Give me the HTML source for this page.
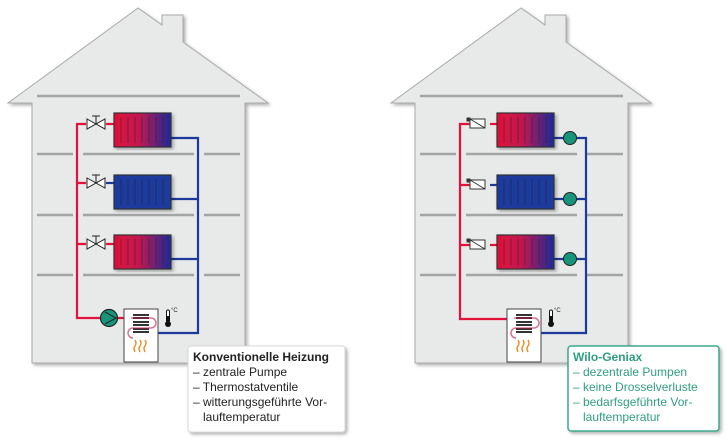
<!DOCTYPE html>
<html><head><meta charset="utf-8"><style>
html,body{margin:0;padding:0;background:#fff;}
svg{display:block}
.t{font-family:"Liberation Sans",sans-serif;font-size:12px}
</style></head><body>
<svg width="728" height="441" viewBox="0 0 728 441" xmlns="http://www.w3.org/2000/svg">
<defs>
<linearGradient id="hot" x1="0" x2="1"><stop offset="0" stop-color="#e0103a"/><stop offset="0.45" stop-color="#c01850"/><stop offset="1" stop-color="#1a2a9a"/></linearGradient>
<filter id="sh" x="-5%" y="-5%" width="115%" height="115%"><feDropShadow dx="2" dy="2" stdDeviation="1.5" flood-color="#000" flood-opacity="0.3"/></filter>
<g id="house">
<path d="M32,103 L8,103 L138,8 L162,25 L162,15 L183,15 L183,42 L268,103 L245,103 L245,363 L32,363 Z" fill="#e8e9e9" stroke="#a8aaaa" stroke-width="1" filter="url(#sh)"/>
<g stroke="#a3a5a5" stroke-width="2.5">
<line x1="37" y1="96" x2="240" y2="96"/>
<line x1="37" y1="154" x2="73" y2="154"/><line x1="83" y1="154" x2="194" y2="154"/><line x1="204" y1="154" x2="240" y2="154"/>
<line x1="37" y1="215" x2="73" y2="215"/><line x1="83" y1="215" x2="194" y2="215"/><line x1="204" y1="215" x2="240" y2="215"/>
<line x1="37" y1="275" x2="73" y2="275"/><line x1="83" y1="275" x2="194" y2="275"/><line x1="204" y1="275" x2="240" y2="275"/>
</g>
</g>
<g id="rads">
<rect x="114" y="113" width="57" height="34" fill="url(#hot)" stroke="#333" stroke-width="1.2" filter="url(#sh)"/>
<rect x="114" y="175" width="57" height="34" fill="#1b3a9c" stroke="#333" stroke-width="1.2" filter="url(#sh)"/>
<rect x="114" y="235" width="57" height="34" fill="url(#hot)" stroke="#333" stroke-width="1.2" filter="url(#sh)"/>
<g stroke="#222" stroke-opacity="0.45" stroke-width="1" fill="none">
<path d="M121,117v26M128,117v26M135,117v26M142,117v26M149,117v26M156,117v26M163,117v26"/>
<path d="M121,179v26M128,179v26M135,179v26M142,179v26M149,179v26M156,179v26M163,179v26"/>
<path d="M121,239v26M128,239v26M135,239v26M142,239v26M149,239v26M156,239v26M163,239v26"/>
</g>
</g>
<g id="boiler">
<rect x="124" y="309" width="34" height="53" fill="#fff" stroke="#444" stroke-width="1"/>
<g stroke="#333" stroke-width="2">
<path d="M133,315h16M133,318h16M133,322h16M133,325h16M133,329h16M133,332h16"/>
</g>
<path d="M131,318 h20 a5,5 0 0 1 0,10 h-18 a5,5 0 0 0 0,10" fill="none" stroke="#c0144a" stroke-width="1.5" stroke-opacity="0.6"/>
<g stroke="#f08a20" stroke-width="1.4" fill="none">
<path d="M135,352 q-2,-4 0,-6 q2,-3 0,-6"/><path d="M140,352 q-2,-4 0,-6 q2,-3 0,-6"/><path d="M145,352 q-2,-4 0,-6 q2,-3 0,-6"/>
</g>
<rect x="166.5" y="310" width="3" height="12" rx="1.5" fill="#fff" stroke="#111"/>
<circle cx="168" cy="324" r="3" fill="#111"/>
<rect x="167" y="316" width="2" height="7" fill="#111"/>
<text x="171" y="312" font-family="Liberation Sans,sans-serif" font-size="6" fill="#222">°C</text>
</g>
</defs>

<!-- LEFT HOUSE -->
<use href="#house"/>
<g fill="none" stroke-width="2.2">
<path d="M86,124 H77 V318 H101" stroke="#e3123c"/>
<path d="M77,183 H86 M77,244 H86" stroke="#e3123c"/>
<path d="M106,124 H114" stroke="#e3123c"/>
<path d="M106,183 H114" stroke="#1b3a9c"/>
<path d="M106,244 H114" stroke="#e3123c"/>
<path d="M171,138 H198 V333 H151" stroke="#1b3a9c"/>
<path d="M171,199 H198 M171,259 H198" stroke="#1b3a9c"/>
<path d="M118,318 H136" stroke="#e3123c"/>
</g>
<use href="#rads"/>
<g fill="#fff" stroke="#222" stroke-width="1">
<path d="M87,119 L105,129 L105,119 L87,129 Z"/><path d="M96,124 V116 M92,116 H100"/>
<path d="M87,178 L105,188 L105,178 L87,188 Z"/><path d="M96,183 V175 M92,175 H100"/>
<path d="M87,239 L105,249 L105,239 L87,249 Z"/><path d="M96,244 V236 M92,236 H100"/>
</g>
<circle cx="109" cy="318" r="8.5" fill="#16957a" stroke="#222" stroke-width="1.2"/>
<path d="M105,312 L116,318 L105,324" fill="none" stroke="#222" stroke-width="1"/>
<use href="#boiler"/>

<!-- RIGHT HOUSE -->
<g transform="translate(383,0)">
<use href="#house"/>
<g fill="none" stroke-width="2.2">
<path d="M87,124 H77 V319 H136" stroke="#e3123c"/>
<path d="M77,185 H87 M77,245 H87" stroke="#e3123c"/>
<path d="M107,124 H114" stroke="#e3123c"/>
<path d="M107,185 H114" stroke="#1b3a9c"/>
<path d="M107,245 H114" stroke="#e3123c"/>
<path d="M171,138 H203 V333 H151" stroke="#1b3a9c"/>
<path d="M171,199 H203 M171,259 H203" stroke="#1b3a9c"/>
</g>
<use href="#rads"/>
<g fill="#fff" stroke="#333" stroke-width="1">
<rect x="87" y="119" width="15" height="9"/><path d="M87,119 L102,128"/><rect x="84" y="118" width="3" height="3" fill="#333"/>
<rect x="87" y="180" width="15" height="9"/><path d="M87,180 L102,189"/><rect x="84" y="179" width="3" height="3" fill="#333"/>
<rect x="87" y="240" width="15" height="9"/><path d="M87,240 L102,249"/><rect x="84" y="239" width="3" height="3" fill="#333"/>
</g>
<g fill="#16957a" stroke="#222" stroke-width="1">
<circle cx="187" cy="138" r="6.5"/><circle cx="187" cy="199" r="6.5"/><circle cx="187" cy="259" r="6.5"/>
</g>
<g transform="translate(0,0)"><use href="#boiler"/></g>
</g>

<!-- TEXT BOXES -->
<rect x="188" y="346" width="157" height="86" rx="3" fill="#fff" stroke="#d8d8d8" filter="url(#sh)"/>
<text class="t" fill="#222"><tspan x="193" y="361" font-weight="bold">Konventionelle Heizung</tspan><tspan x="193" y="376">– zentrale Pumpe</tspan><tspan x="193" y="391">– Thermostatventile</tspan><tspan x="193" y="406">– witterungsgeführte Vor-</tspan><tspan x="203" y="421">lauftemperatur</tspan></text>
<rect x="568" y="346" width="151" height="85" rx="3" fill="#fff" stroke="#3aa889" stroke-width="1.5" filter="url(#sh)"/>
<text class="t" fill="#2f9f80"><tspan x="573" y="361" font-weight="bold">Wilo-Geniax</tspan><tspan x="573" y="376">– dezentrale Pumpen</tspan><tspan x="573" y="391">– keine Drosselverluste</tspan><tspan x="573" y="406">– bedarfsgeführte Vor-</tspan><tspan x="583" y="421">lauftemperatur</tspan></text>
</svg>
</body></html>
